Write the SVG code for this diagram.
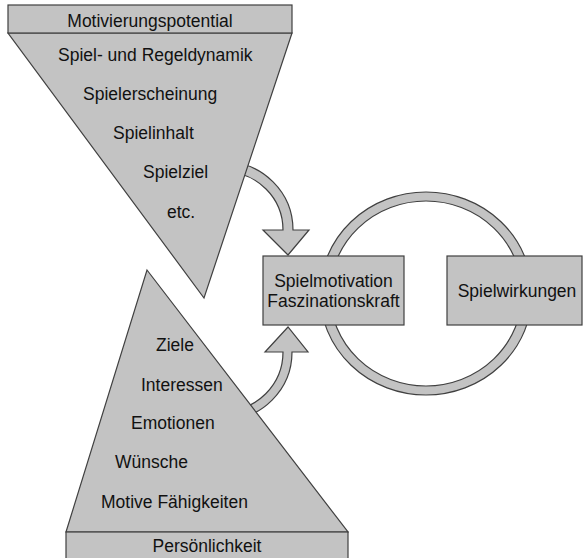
<svg xmlns="http://www.w3.org/2000/svg" width="583" height="558" viewBox="0 0 583 558">
<style>
.s{fill:#c3c3c3;stroke:#404040;stroke-width:1.2}
.t{font-family:"Liberation Sans",Arial,sans-serif;font-size:17.5px;fill:#111}
.m{text-anchor:middle}
</style>
<rect width="583" height="558" fill="#fff"/>
<g id="connectors">
<path class="s" fill-rule="evenodd" d="M320,293.5 A106,101.5 0 1 0 532,293.5 A106,101.5 0 1 0 320,293.5 Z M330,293.5 A96,92.5 0 1 1 522,293.5 A96,92.5 0 1 1 330,293.5 Z"/>
<path class="s" d="M225,162 A68,68 0 0 1 293,230 L309,230 L288,255 L263,230 L283,230 A58,58 0 0 0 225,172 Z"/>
<path class="s" d="M292,352 L308,352 L288,327 L265,352 L283,352 A59,59 0 0 1 224,411 L224,420 A68,68 0 0 0 292,352 Z"/>
</g>
<g id="motivierungspotential">
<polygon class="s" points="8,33 292,33 204,298"/>
<rect class="s" x="8" y="5" width="284" height="28"/>
<text class="t m" x="150" y="27">Motivierungspotential</text>
<text class="t" x="58" y="61">Spiel- und Regeldynamik</text>
<text class="t" x="83" y="100">Spielerscheinung</text>
<text class="t" x="113" y="139">Spielinhalt</text>
<text class="t" x="143" y="178">Spielziel</text>
<text class="t" x="167" y="218">etc.</text>
</g>
<g id="persoenlichkeit">
<polygon class="s" points="147,270 348,532 66,532"/>
<rect class="s" x="66" y="532" width="282" height="30"/>
<text class="t" x="156" y="351">Ziele</text>
<text class="t" x="141" y="391">Interessen</text>
<text class="t" x="131" y="429">Emotionen</text>
<text class="t" x="115" y="468">Wünsche</text>
<text class="t" x="101" y="508">Motive Fähigkeiten</text>
<text class="t m" x="207" y="552">Persönlichkeit</text>
</g>
<g id="spielmotivation">
<rect class="s" x="263" y="256" width="141" height="69"/>
<text class="t m" x="333.5" y="287">Spielmotivation</text>
<text class="t m" x="333.5" y="307">Faszinationskraft</text>
</g>
<g id="spielwirkungen">
<rect class="s" x="447" y="256" width="135" height="69"/>
<text class="t m" x="517" y="297">Spielwirkungen</text>
</g>
</svg>
